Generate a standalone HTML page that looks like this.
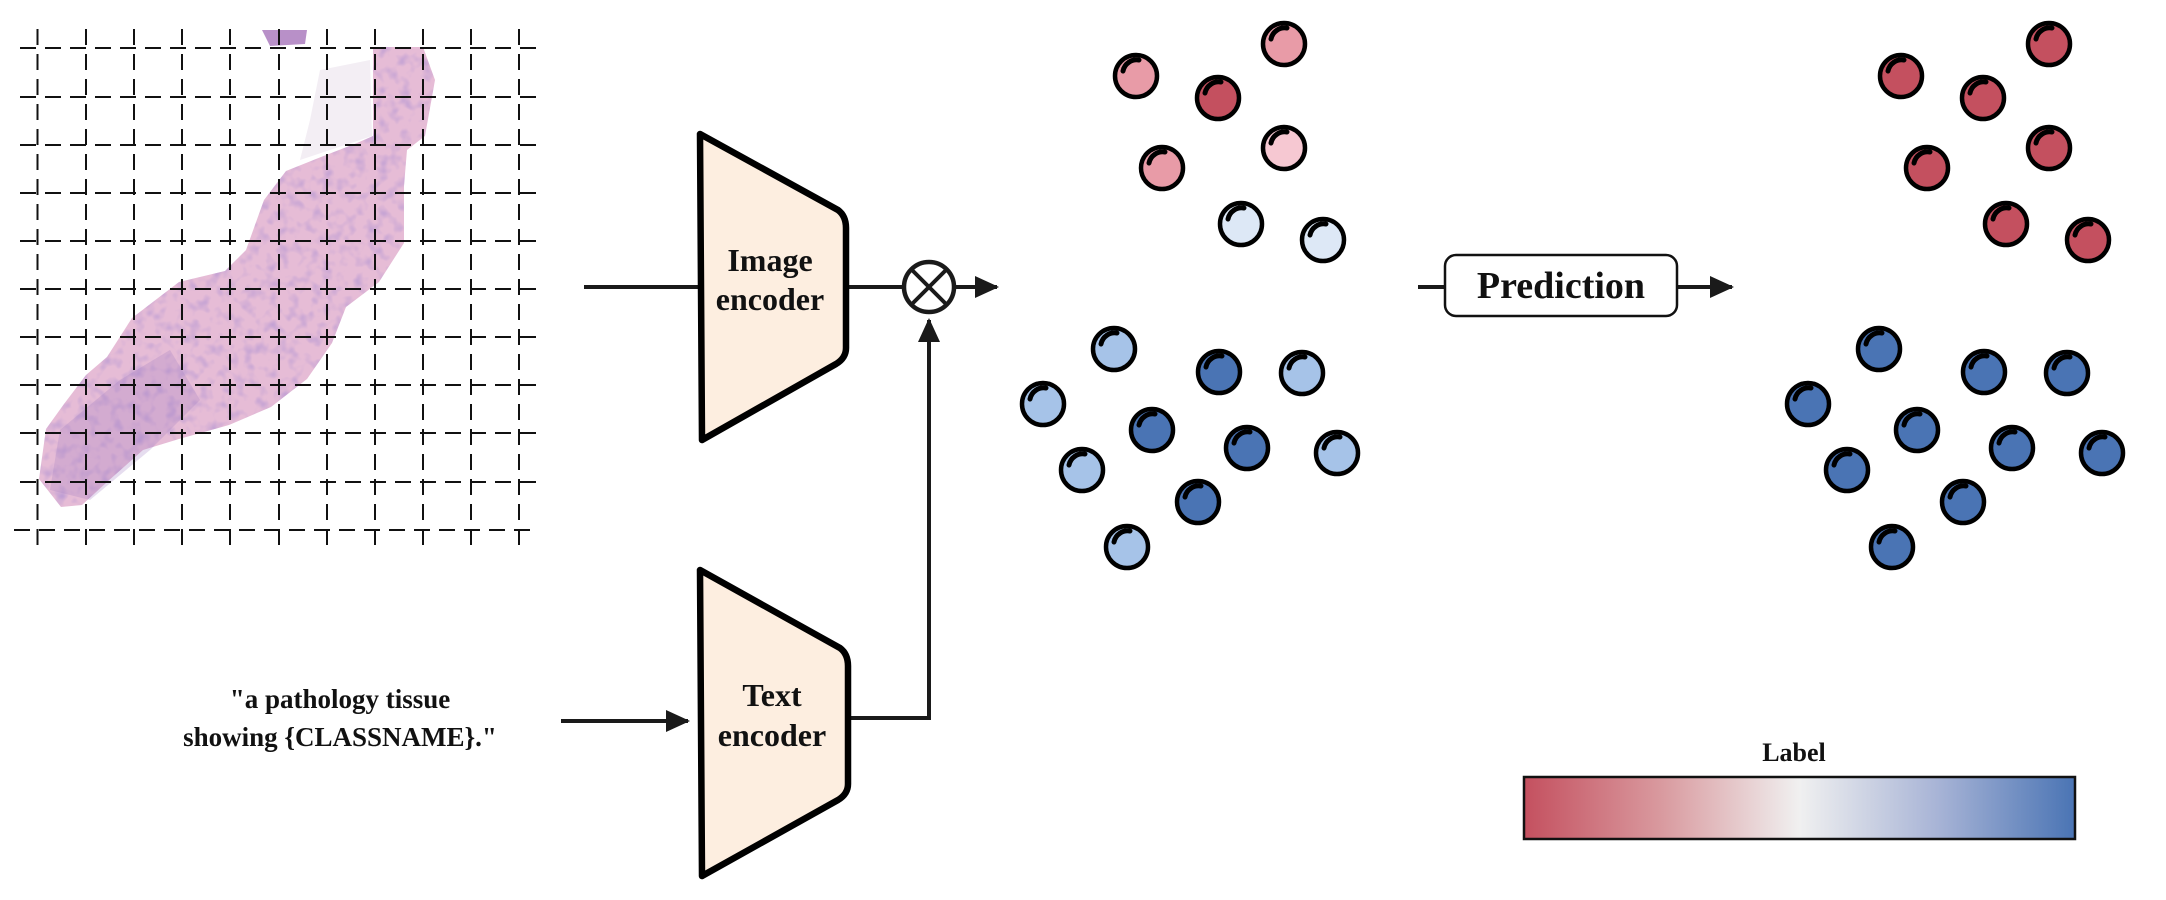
<!DOCTYPE html>
<html><head><meta charset="utf-8"><style>
html,body{margin:0;padding:0;background:#fff;}
svg{display:block;}
text{font-family:"Liberation Serif",serif;fill:#111;}
</style></head><body>
<svg width="2166" height="900" viewBox="0 0 2166 900" xmlns="http://www.w3.org/2000/svg">
<defs>
<linearGradient id="cb" x1="0" x2="1" y1="0" y2="0">
<stop offset="0" stop-color="#c4505f"/><stop offset="0.25" stop-color="#d99a9f"/>
<stop offset="0.5" stop-color="#f0f0f0"/><stop offset="0.75" stop-color="#a8b4d6"/>
<stop offset="1" stop-color="#4a74b4"/></linearGradient>
<filter id="tex"><feTurbulence type="fractalNoise" baseFrequency="0.09" numOctaves="2" seed="3"/><feColorMatrix values="0 0 0 0 0.45  0 0 0 0 0.3  0 0 0 0 0.65  0 0 0 1.6 -0.75"/><feComposite in2="SourceGraphic" operator="in"/></filter>
<marker id="ah" markerWidth="24" markerHeight="24" refX="22" refY="12" orient="auto" markerUnits="userSpaceOnUse" viewBox="0 0 24 24"><path d="M0,1 L24,12 L0,23z" fill="#1a1a1a"/></marker>
<g id="c"><circle r="21" stroke="#000" stroke-width="4.5"/><path d="M-13,-5 A14,14 0 0 1 3,-16" fill="none" stroke="#000" stroke-width="5" stroke-linecap="round"/></g>
</defs>

<!-- tissue -->
<g>
<polygon points="373,47 423,47 435,80 425,136 407,150 404,186 404,243 379,282 346,307 332,343 307,379 271,407 229,425 179,439 143,450 107,482 82,505 61,507 39,479 46,429 64,404 86,375 107,357 132,318 179,282 225,271 246,250 264,200 286,171 321,157 357,143 373,136" fill="#e6bcd6"/>
<polygon points="262,30 307,30 305,44 270,46" fill="#b890c8"/>
<polygon points="320,70 370,60 372,136 330,150 300,160 310,120" fill="#f3eef4"/>
<polygon points="373,47 423,47 435,80 425,136 407,150 404,186 404,243 379,282 346,307 332,343 307,379 271,407 229,425 179,439 143,450 107,482 82,505 61,507 39,479 46,429 64,404 86,375 107,357 132,318 179,282 225,271 246,250 264,200 286,171 321,157 357,143 373,136" fill="#fff" filter="url(#tex)"/>
<polygon points="60,430 120,380 170,350 200,400 150,450 90,500 50,490" fill="#9a78c0" opacity="0.25"/>
</g>
<!-- grid -->
<g stroke="#111" stroke-width="2" stroke-dasharray="16,9">
<line x1="37.5" y1="29" x2="37.5" y2="549"/><line x1="86" y1="29" x2="86" y2="549"/><line x1="134" y1="29" x2="134" y2="549"/><line x1="182" y1="29" x2="182" y2="549"/><line x1="230" y1="29" x2="230" y2="549"/><line x1="279" y1="29" x2="279" y2="549"/><line x1="327" y1="29" x2="327" y2="549"/><line x1="375" y1="29" x2="375" y2="549"/><line x1="423" y1="29" x2="423" y2="549"/><line x1="471" y1="29" x2="471" y2="549"/><line x1="519" y1="29" x2="519" y2="549"/>
<line x1="20" y1="48" x2="537" y2="48"/><line x1="20" y1="97" x2="537" y2="97"/><line x1="20" y1="145" x2="537" y2="145"/><line x1="20" y1="193" x2="537" y2="193"/><line x1="20" y1="241" x2="537" y2="241"/><line x1="20" y1="289" x2="537" y2="289"/><line x1="20" y1="337" x2="537" y2="337"/><line x1="20" y1="385" x2="537" y2="385"/><line x1="20" y1="433" x2="537" y2="433"/><line x1="20" y1="482" x2="537" y2="482"/><line x1="14" y1="530" x2="537" y2="530"/>
</g>

<!-- connectors -->
<g stroke="#1a1a1a" stroke-width="4" fill="none">
<line x1="584" y1="287" x2="700" y2="287"/>
<line x1="845" y1="287" x2="903" y2="287"/>
<line x1="955" y1="287" x2="997" y2="287" marker-end="url(#ah)"/>
<polyline points="848,718 929,718 929,320" marker-end="url(#ah)"/>
<line x1="561" y1="721" x2="688" y2="721" marker-end="url(#ah)"/>
<line x1="1418" y1="287" x2="1445" y2="287"/>
<line x1="1677" y1="287" x2="1732" y2="287" marker-end="url(#ah)"/>
</g>
<circle cx="929" cy="287" r="25" fill="#fff" stroke="#1a1a1a" stroke-width="4.5"/>
<line x1="911" y1="269" x2="947" y2="305" stroke="#1a1a1a" stroke-width="4"/>
<line x1="947" y1="269" x2="911" y2="305" stroke="#1a1a1a" stroke-width="4"/>

<!-- encoders -->
<path d="M700,134 L838,210 Q846,216 846,228 L846,348 Q846,358 836,364 L702,440 Z" fill="#fdeee0" stroke="#000" stroke-width="6.5" stroke-linejoin="round"/>
<text x="770" y="271" font-size="32" font-weight="bold" text-anchor="middle">Image</text>
<text x="770" y="310" font-size="32" font-weight="bold" text-anchor="middle">encoder</text>
<path d="M700,570 L840,648 Q848,654 848,666 L848,784 Q848,794 838,800 L702,876 Z" fill="#fdeee0" stroke="#000" stroke-width="6.5" stroke-linejoin="round"/>
<text x="772" y="706" font-size="32" font-weight="bold" text-anchor="middle">Text</text>
<text x="772" y="746" font-size="32" font-weight="bold" text-anchor="middle">encoder</text>

<text x="340" y="708" font-size="27" font-weight="bold" text-anchor="middle">"a pathology tissue</text>
<text x="340" y="746" font-size="27" font-weight="bold" text-anchor="middle">showing {CLASSNAME}."</text>

<!-- prediction -->
<rect x="1445" y="255" width="232" height="61" rx="11" fill="#fff" stroke="#111" stroke-width="2.5"/>
<text x="1561" y="298" font-size="38" font-weight="bold" text-anchor="middle">Prediction</text>

<!-- left circles -->
<use href="#c" x="1284" y="44" fill="#e89ba7"/>
<use href="#c" x="1136" y="76" fill="#e89ba7"/>
<use href="#c" x="1218" y="98" fill="#c4505f"/>
<use href="#c" x="1162" y="168" fill="#e89ba7"/>
<use href="#c" x="1284" y="148" fill="#f6c8d2"/>
<use href="#c" x="1241" y="224" fill="#dde8f6"/>
<use href="#c" x="1323" y="240" fill="#dde8f6"/>
<use href="#c" x="1114" y="349" fill="#a6c3e8"/>
<use href="#c" x="1219" y="372" fill="#4a74b4"/>
<use href="#c" x="1302" y="373" fill="#a6c3e8"/>
<use href="#c" x="1043" y="404" fill="#a6c3e8"/>
<use href="#c" x="1152" y="430" fill="#4a74b4"/>
<use href="#c" x="1247" y="448" fill="#4a74b4"/>
<use href="#c" x="1337" y="453" fill="#a6c3e8"/>
<use href="#c" x="1082" y="470" fill="#a6c3e8"/>
<use href="#c" x="1198" y="502" fill="#4a74b4"/>
<use href="#c" x="1127" y="547" fill="#a6c3e8"/>
<!-- right circles -->
<g transform="translate(765,0)">
<use href="#c" x="1284" y="44" fill="#c4505f"/>
<use href="#c" x="1136" y="76" fill="#c4505f"/>
<use href="#c" x="1218" y="98" fill="#c4505f"/>
<use href="#c" x="1162" y="168" fill="#c4505f"/>
<use href="#c" x="1284" y="148" fill="#c4505f"/>
<use href="#c" x="1241" y="224" fill="#c4505f"/>
<use href="#c" x="1323" y="240" fill="#c4505f"/>
<use href="#c" x="1114" y="349" fill="#4a74b4"/>
<use href="#c" x="1219" y="372" fill="#4a74b4"/>
<use href="#c" x="1302" y="373" fill="#4a74b4"/>
<use href="#c" x="1043" y="404" fill="#4a74b4"/>
<use href="#c" x="1152" y="430" fill="#4a74b4"/>
<use href="#c" x="1247" y="448" fill="#4a74b4"/>
<use href="#c" x="1337" y="453" fill="#4a74b4"/>
<use href="#c" x="1082" y="470" fill="#4a74b4"/>
<use href="#c" x="1198" y="502" fill="#4a74b4"/>
<use href="#c" x="1127" y="547" fill="#4a74b4"/>
</g>

<!-- colorbar -->
<text x="1794" y="761" font-size="26" font-weight="bold" text-anchor="middle">Label</text>
<rect x="1524" y="777" width="551" height="62" fill="url(#cb)" stroke="#111" stroke-width="2.5"/>
</svg>
</body></html>
